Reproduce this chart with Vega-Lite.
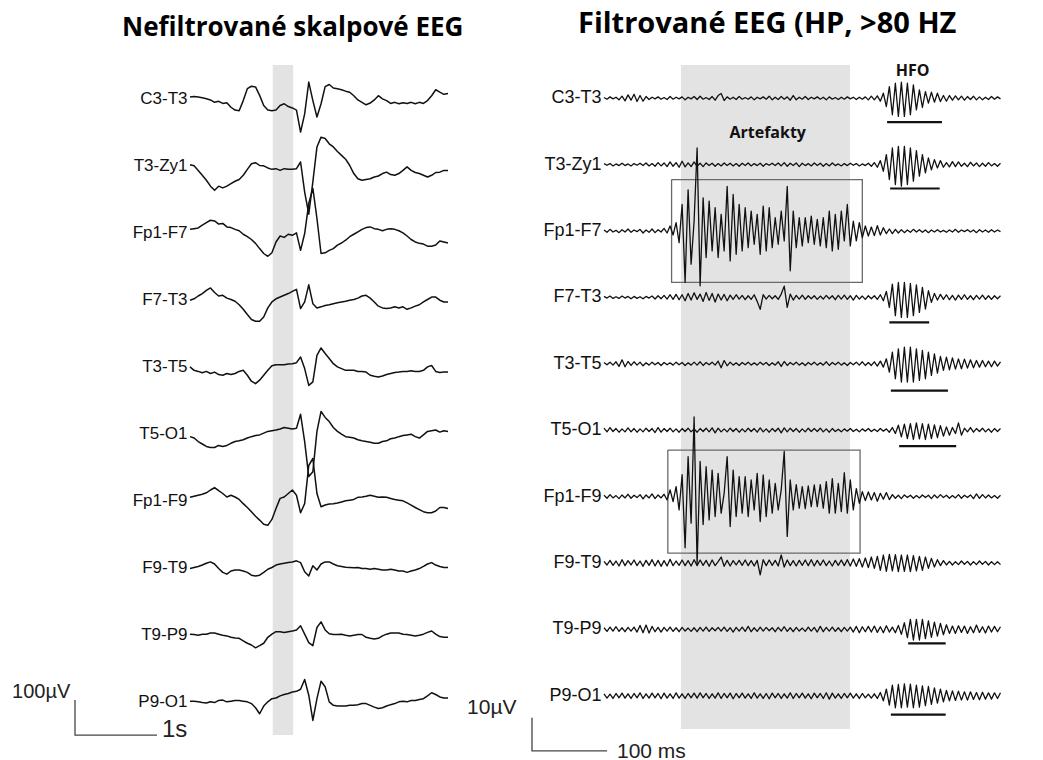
{
"$schema": "https://vega.github.io/schema/vega-lite/v6.json",
"background": "white",
"padding": {"left": 12, "top": 10, "right": 5, "bottom": 2},
"spacing": 156,
"bounds": "flush",
"resolve": {"scale": {"yOffset": "independent"}},
"config": {"view": {"stroke": null}, "axis": {"grid": false}},
"datasets": {
"L": [
{"t":0,"C3-T3":4,"T3-Zy1":2,"Fp1-F7":9,"F7-T3":-2,"T3-T5":-1,"T5-O1":-9,"Fp1-F9":9,"F9-T9":-3,"T9-P9":1,"P9-O1":1},
{"t":0.05,"C3-T3":6,"T3-Zy1":-1,"Fp1-F7":11,"F7-T3":2,"T3-T5":-11,"T5-O1":-13,"Fp1-F9":12,"F9-T9":0,"T9-P9":0,"P9-O1":1},
{"t":0.1,"C3-T3":4,"T3-Zy1":-14,"Fp1-F7":13,"F7-T3":10,"T3-T5":-14,"T5-O1":-23,"Fp1-F9":15,"F9-T9":3,"T9-P9":-2,"P9-O1":-1},
{"t":0.15,"C3-T3":2,"T3-Zy1":-28,"Fp1-F7":21,"F7-T3":17,"T3-T5":-18,"T5-O1":-30,"Fp1-F9":18,"F9-T9":7,"T9-P9":1,"P9-O1":-3},
{"t":0.2,"C3-T3":-1,"T3-Zy1":-42,"Fp1-F7":28,"F7-T3":26,"T3-T5":-14,"T5-O1":-37,"Fp1-F9":22,"F9-T9":12,"T9-P9":1,"P9-O1":-4},
{"t":0.25,"C3-T3":-4,"T3-Zy1":-59,"Fp1-F7":35,"F7-T3":33,"T3-T5":-20,"T5-O1":-40,"Fp1-F9":30,"F9-T9":16,"T9-P9":4,"P9-O1":-1},
{"t":0.3,"C3-T3":-11,"T3-Zy1":-71,"Fp1-F7":33,"F7-T3":20,"T3-T5":-16,"T5-O1":-40,"Fp1-F9":37,"F9-T9":10,"T9-P9":4,"P9-O1":-3},
{"t":0.35,"C3-T3":-8,"T3-Zy1":-59,"Fp1-F7":24,"F7-T3":10,"T3-T5":-23,"T5-O1":-34,"Fp1-F9":28,"F9-T9":-3,"T9-P9":1,"P9-O1":3},
{"t":0.4,"C3-T3":-14,"T3-Zy1":-64,"Fp1-F7":26,"F7-T3":12,"T3-T5":-25,"T5-O1":-37,"Fp1-F9":20,"F9-T9":-14,"T9-P9":-2,"P9-O1":4},
{"t":0.45,"C3-T3":-12,"T3-Zy1":-59,"Fp1-F7":16,"F7-T3":4,"T3-T5":-20,"T5-O1":-34,"Fp1-F9":10,"F9-T9":-19,"T9-P9":-4,"P9-O1":-1},
{"t":0.5,"C3-T3":-25,"T3-Zy1":-52,"Fp1-F7":14,"F7-T3":0,"T3-T5":-23,"T5-O1":-28,"Fp1-F9":15,"F9-T9":-10,"T9-P9":-8,"P9-O1":1},
{"t":0.55,"C3-T3":-33,"T3-Zy1":-45,"Fp1-F7":9,"F7-T3":-5,"T3-T5":-20,"T5-O1":-23,"Fp1-F9":10,"F9-T9":-7,"T9-P9":-10,"P9-O1":3},
{"t":0.6,"C3-T3":-35,"T3-Zy1":-40,"Fp1-F7":5,"F7-T3":-15,"T3-T5":-14,"T5-O1":-21,"Fp1-F9":3,"F9-T9":-7,"T9-P9":-11,"P9-O1":3},
{"t":0.65,"C3-T3":-6,"T3-Zy1":-28,"Fp1-F7":-5,"F7-T3":-28,"T3-T5":-11,"T5-O1":-18,"Fp1-F9":-9,"F9-T9":-10,"T9-P9":-18,"P9-O1":1},
{"t":0.7,"C3-T3":28,"T3-Zy1":-11,"Fp1-F7":-12,"F7-T3":-43,"T3-T5":-25,"T5-O1":-13,"Fp1-F9":-20,"F9-T9":-14,"T9-P9":-25,"P9-O1":-1},
{"t":0.75,"C3-T3":35,"T3-Zy1":5,"Fp1-F7":-20,"F7-T3":-57,"T3-T5":-42,"T5-O1":-9,"Fp1-F9":-32,"F9-T9":-22,"T9-P9":-30,"P9-O1":-6},
{"t":0.8,"C3-T3":33,"T3-Zy1":8,"Fp1-F7":-31,"F7-T3":-62,"T3-T5":-49,"T5-O1":-6,"Fp1-F9":-45,"F9-T9":-24,"T9-P9":-38,"P9-O1":-18},
{"t":0.85,"C3-T3":9,"T3-Zy1":0,"Fp1-F7":-46,"F7-T3":-62,"T3-T5":-39,"T5-O1":-4,"Fp1-F9":-56,"F9-T9":-22,"T9-P9":-32,"P9-O1":-35},
{"t":0.9,"C3-T3":-20,"T3-Zy1":-1,"Fp1-F7":-60,"F7-T3":-50,"T3-T5":-25,"T5-O1":1,"Fp1-F9":-68,"F9-T9":-14,"T9-P9":-25,"P9-O1":-13},
{"t":0.95,"C3-T3":-33,"T3-Zy1":-7,"Fp1-F7":-68,"F7-T3":-24,"T3-T5":-11,"T5-O1":6,"Fp1-F9":-71,"F9-T9":-5,"T9-P9":-8,"P9-O1":-1},
{"t":1,"C3-T3":-35,"T3-Zy1":-11,"Fp1-F7":-58,"F7-T3":-7,"T3-T5":2,"T5-O1":8,"Fp1-F9":-54,"F9-T9":0,"T9-P9":1,"P9-O1":8},
{"t":1.05,"C3-T3":-33,"T3-Zy1":-9,"Fp1-F7":-27,"F7-T3":2,"T3-T5":5,"T5-O1":10,"Fp1-F9":-23,"F9-T9":7,"T9-P9":8,"P9-O1":10},
{"t":1.1,"C3-T3":-20,"T3-Zy1":-14,"Fp1-F7":-10,"F7-T3":7,"T3-T5":5,"T5-O1":13,"Fp1-F9":6,"F9-T9":10,"T9-P9":8,"P9-O1":16},
{"t":1.15,"C3-T3":-15,"T3-Zy1":-9,"Fp1-F7":-14,"F7-T3":12,"T3-T5":5,"T5-O1":17,"Fp1-F9":10,"F9-T9":12,"T9-P9":6,"P9-O1":20},
{"t":1.2,"C3-T3":-23,"T3-Zy1":-11,"Fp1-F7":-5,"F7-T3":17,"T3-T5":7,"T5-O1":15,"Fp1-F9":20,"F9-T9":14,"T9-P9":8,"P9-O1":23},
{"t":1.25,"C3-T3":-27,"T3-Zy1":-11,"Fp1-F7":-8,"F7-T3":23,"T3-T5":8,"T5-O1":13,"Fp1-F9":30,"F9-T9":16,"T9-P9":10,"P9-O1":27},
{"t":1.3,"C3-T3":-33,"T3-Zy1":-9,"Fp1-F7":-1,"F7-T3":29,"T3-T5":11,"T5-O1":15,"Fp1-F9":15,"F9-T9":19,"T9-P9":13,"P9-O1":29},
{"t":1.35,"C3-T3":-96,"T3-Zy1":10,"Fp1-F7":-51,"F7-T3":-26,"T3-T5":27,"T5-O1":55,"Fp1-F9":-35,"F9-T9":14,"T9-P9":25,"P9-O1":35},
{"t":1.4,"C3-T3":-44,"T3-Zy1":-76,"Fp1-F7":-3,"F7-T3":-7,"T3-T5":-6,"T5-O1":-23,"Fp1-F9":-9,"F9-T9":-12,"T9-P9":1,"P9-O1":63},
{"t":1.45,"C3-T3":47,"T3-Zy1":-139,"Fp1-F7":83,"F7-T3":42,"T3-T5":-54,"T5-O1":-123,"Fp1-F9":100,"F9-T9":-24,"T9-P9":-23,"P9-O1":18},
{"t":1.5,"C3-T3":-6,"T3-Zy1":-47,"Fp1-F7":126,"F7-T3":-12,"T3-T5":-44,"T5-O1":-109,"Fp1-F9":120,"F9-T9":5,"T9-P9":-32,"P9-O1":-54},
{"t":1.55,"C3-T3":-53,"T3-Zy1":53,"Fp1-F7":40,"F7-T3":-24,"T3-T5":32,"T5-O1":6,"Fp1-F9":20,"F9-T9":-7,"T9-P9":20,"P9-O1":8},
{"t":1.6,"C3-T3":-15,"T3-Zy1":81,"Fp1-F7":-60,"F7-T3":-21,"T3-T5":53,"T5-O1":63,"Fp1-F9":-18,"F9-T9":10,"T9-P9":36,"P9-O1":58},
{"t":1.65,"C3-T3":34,"T3-Zy1":77,"Fp1-F7":-58,"F7-T3":-17,"T3-T5":37,"T5-O1":46,"Fp1-F9":-13,"F9-T9":16,"T9-P9":13,"P9-O1":42},
{"t":1.7,"C3-T3":40,"T3-Zy1":62,"Fp1-F7":-51,"F7-T3":-15,"T3-T5":23,"T5-O1":34,"Fp1-F9":-10,"F9-T9":16,"T9-P9":2,"P9-O1":-1},
{"t":1.75,"C3-T3":30,"T3-Zy1":53,"Fp1-F7":-46,"F7-T3":-12,"T3-T5":8,"T5-O1":17,"Fp1-F9":-9,"F9-T9":10,"T9-P9":0,"P9-O1":-11},
{"t":1.8,"C3-T3":28,"T3-Zy1":40,"Fp1-F7":-36,"F7-T3":-9,"T3-T5":-1,"T5-O1":6,"Fp1-F9":-7,"F9-T9":5,"T9-P9":0,"P9-O1":-13},
{"t":1.85,"C3-T3":25,"T3-Zy1":29,"Fp1-F7":-30,"F7-T3":-7,"T3-T5":-6,"T5-O1":-2,"Fp1-F9":-4,"F9-T9":3,"T9-P9":1,"P9-O1":-13},
{"t":1.9,"C3-T3":21,"T3-Zy1":18,"Fp1-F7":-22,"F7-T3":-5,"T3-T5":-11,"T5-O1":-9,"Fp1-F9":-1,"F9-T9":1,"T9-P9":-2,"P9-O1":-13},
{"t":1.95,"C3-T3":18,"T3-Zy1":0,"Fp1-F7":-12,"F7-T3":-2,"T3-T5":-11,"T5-O1":-11,"Fp1-F9":1,"F9-T9":0,"T9-P9":-4,"P9-O1":-11},
{"t":2,"C3-T3":8,"T3-Zy1":-23,"Fp1-F7":-5,"F7-T3":0,"T3-T5":-11,"T5-O1":-13,"Fp1-F9":3,"F9-T9":-1,"T9-P9":-2,"P9-O1":-11},
{"t":2.05,"C3-T3":-4,"T3-Zy1":-38,"Fp1-F7":2,"F7-T3":4,"T3-T5":-14,"T5-O1":-18,"Fp1-F9":9,"F9-T9":0,"T9-P9":0,"P9-O1":-9},
{"t":2.1,"C3-T3":-11,"T3-Zy1":-42,"Fp1-F7":9,"F7-T3":10,"T3-T5":-14,"T5-O1":-21,"Fp1-F9":10,"F9-T9":-3,"T9-P9":0,"P9-O1":-6},
{"t":2.15,"C3-T3":-18,"T3-Zy1":-40,"Fp1-F7":14,"F7-T3":12,"T3-T5":-16,"T5-O1":-23,"Fp1-F9":12,"F9-T9":-3,"T9-P9":-8,"P9-O1":-6},
{"t":2.2,"C3-T3":-13,"T3-Zy1":-38,"Fp1-F7":16,"F7-T3":4,"T3-T5":-25,"T5-O1":-25,"Fp1-F9":15,"F9-T9":-5,"T9-P9":-11,"P9-O1":-11},
{"t":2.25,"C3-T3":-4,"T3-Zy1":-33,"Fp1-F7":11,"F7-T3":-7,"T3-T5":-28,"T5-O1":-28,"Fp1-F9":12,"F9-T9":-3,"T9-P9":-13,"P9-O1":-16},
{"t":2.3,"C3-T3":8,"T3-Zy1":-30,"Fp1-F7":9,"F7-T3":-19,"T3-T5":-30,"T5-O1":-28,"Fp1-F9":9,"F9-T9":-5,"T9-P9":-11,"P9-O1":-20},
{"t":2.35,"C3-T3":-1,"T3-Zy1":-23,"Fp1-F7":5,"F7-T3":-24,"T3-T5":-27,"T5-O1":-23,"Fp1-F9":10,"F9-T9":-7,"T9-P9":-4,"P9-O1":-18},
{"t":2.4,"C3-T3":-6,"T3-Zy1":-19,"Fp1-F7":9,"F7-T3":-26,"T3-T5":-23,"T5-O1":-21,"Fp1-F9":9,"F9-T9":-7,"T9-P9":1,"P9-O1":-13},
{"t":2.45,"C3-T3":-14,"T3-Zy1":-26,"Fp1-F7":11,"F7-T3":-24,"T3-T5":-20,"T5-O1":-15,"Fp1-F9":6,"F9-T9":-5,"T9-P9":4,"P9-O1":-9},
{"t":2.5,"C3-T3":-11,"T3-Zy1":-28,"Fp1-F7":9,"F7-T3":-21,"T3-T5":-17,"T5-O1":-13,"Fp1-F9":3,"F9-T9":-7,"T9-P9":4,"P9-O1":-6},
{"t":2.55,"C3-T3":-15,"T3-Zy1":-23,"Fp1-F7":5,"F7-T3":-24,"T3-T5":-16,"T5-O1":-9,"Fp1-F9":1,"F9-T9":-10,"T9-P9":4,"P9-O1":-1},
{"t":2.6,"C3-T3":-12,"T3-Zy1":-14,"Fp1-F7":-1,"F7-T3":-21,"T3-T5":-14,"T5-O1":-6,"Fp1-F9":-1,"F9-T9":-10,"T9-P9":1,"P9-O1":1},
{"t":2.65,"C3-T3":-14,"T3-Zy1":-4,"Fp1-F7":-10,"F7-T3":-28,"T3-T5":-14,"T5-O1":-4,"Fp1-F9":-7,"F9-T9":-14,"T9-P9":0,"P9-O1":-1},
{"t":2.7,"C3-T3":-11,"T3-Zy1":-14,"Fp1-F7":-20,"F7-T3":-24,"T3-T5":-12,"T5-O1":-2,"Fp1-F9":-13,"F9-T9":-10,"T9-P9":-2,"P9-O1":3},
{"t":2.75,"C3-T3":-15,"T3-Zy1":-20,"Fp1-F7":-27,"F7-T3":-19,"T3-T5":-14,"T5-O1":-9,"Fp1-F9":-20,"F9-T9":-7,"T9-P9":-4,"P9-O1":3},
{"t":2.8,"C3-T3":-11,"T3-Zy1":-23,"Fp1-F7":-31,"F7-T3":-15,"T3-T5":-14,"T5-O1":-13,"Fp1-F9":-26,"F9-T9":-3,"T9-P9":-2,"P9-O1":6},
{"t":2.85,"C3-T3":-14,"T3-Zy1":-28,"Fp1-F7":-33,"F7-T3":-7,"T3-T5":-11,"T5-O1":-4,"Fp1-F9":-32,"F9-T9":3,"T9-P9":1,"P9-O1":8},
{"t":2.9,"C3-T3":-6,"T3-Zy1":-33,"Fp1-F7":-39,"F7-T3":0,"T3-T5":-1,"T5-O1":6,"Fp1-F9":-35,"F9-T9":10,"T9-P9":6,"P9-O1":16},
{"t":2.95,"C3-T3":8,"T3-Zy1":-28,"Fp1-F7":-39,"F7-T3":7,"T3-T5":3,"T5-O1":8,"Fp1-F9":-35,"F9-T9":14,"T9-P9":10,"P9-O1":25},
{"t":3,"C3-T3":25,"T3-Zy1":-20,"Fp1-F7":-36,"F7-T3":7,"T3-T5":-14,"T5-O1":10,"Fp1-F9":-30,"F9-T9":7,"T9-P9":1,"P9-O1":20},
{"t":3.05,"C3-T3":18,"T3-Zy1":-19,"Fp1-F7":-24,"F7-T3":-2,"T3-T5":-17,"T5-O1":4,"Fp1-F9":-20,"F9-T9":3,"T9-P9":-6,"P9-O1":13},
{"t":3.1,"C3-T3":12,"T3-Zy1":-14,"Fp1-F7":-27,"F7-T3":-7,"T3-T5":-16,"T5-O1":8,"Fp1-F9":-20,"F9-T9":0,"T9-P9":-8,"P9-O1":10},
{"t":3.15,"C3-T3":14,"T3-Zy1":-14,"Fp1-F7":-30,"F7-T3":-7,"T3-T5":-16,"T5-O1":6,"Fp1-F9":-23,"F9-T9":0,"T9-P9":-8,"P9-O1":10}
],
"R": [
{"t":0,"C3-T3":0.2,"T3-Zy1":0.3,"Fp1-F7":0.3,"F7-T3":0.3,"T3-T5":0.4,"T5-O1":0.6,"Fp1-F9":0.4,"F9-T9":0.5,"T9-P9":0.5,"P9-O1":0.6},
{"t":4,"C3-T3":-0.3,"T3-Zy1":-0.2,"Fp1-F7":-0.4,"F7-T3":-0.2,"T3-T5":-0.3,"T5-O1":-0.5,"Fp1-F9":-0.5,"F9-T9":-0.6,"T9-P9":-0.6,"P9-O1":-0.7},
{"t":8,"C3-T3":0.4,"T3-Zy1":0.3,"Fp1-F7":0.5,"F7-T3":0.4,"T3-T5":0.5,"T5-O1":0.8,"Fp1-F9":0.6,"F9-T9":0.8,"T9-P9":0.7,"P9-O1":0.5},
{"t":12,"C3-T3":-0.2,"T3-Zy1":-0.4,"Fp1-F7":-0.3,"F7-T3":-0.3,"T3-T5":-0.4,"T5-O1":-0.4,"Fp1-F9":-0.4,"F9-T9":-0.7,"T9-P9":-0.5,"P9-O1":-0.8},
{"t":16,"C3-T3":0.3,"T3-Zy1":0.2,"Fp1-F7":0.2,"F7-T3":0.2,"T3-T5":0.6,"T5-O1":0.5,"Fp1-F9":0.3,"F9-T9":0.6,"T9-P9":0.8,"P9-O1":0.7},
{"t":20,"C3-T3":-0.5,"T3-Zy1":-0.3,"Fp1-F7":-0.5,"F7-T3":-0.3,"T3-T5":-0.8,"T5-O1":-0.6,"Fp1-F9":-0.6,"F9-T9":-0.9,"T9-P9":-0.6,"P9-O1":-0.6},
{"t":24,"C3-T3":0.6,"T3-Zy1":0.4,"Fp1-F7":0.4,"F7-T3":0.4,"T3-T5":1.2,"T5-O1":0.4,"Fp1-F9":0.5,"F9-T9":1.0,"T9-P9":0.5,"P9-O1":0.8},
{"t":28,"C3-T3":-0.8,"T3-Zy1":-0.3,"Fp1-F7":-0.3,"F7-T3":-0.2,"T3-T5":-0.9,"T5-O1":-0.5,"Fp1-F9":-0.4,"F9-T9":-0.8,"T9-P9":-0.7,"P9-O1":-0.7},
{"t":32,"C3-T3":1.0,"T3-Zy1":0.2,"Fp1-F7":0.6,"F7-T3":0.3,"T3-T5":0.7,"T5-O1":0.7,"Fp1-F9":0.7,"F9-T9":0.7,"T9-P9":0.6,"P9-O1":0.6},
{"t":36,"C3-T3":-0.6,"T3-Zy1":-0.4,"Fp1-F7":-0.4,"F7-T3":-0.4,"T3-T5":-0.5,"T5-O1":-0.5,"Fp1-F9":-0.5,"F9-T9":-0.6,"T9-P9":-0.5,"P9-O1":-0.8},
{"t":40,"C3-T3":1.2,"T3-Zy1":0.3,"Fp1-F7":0.3,"F7-T3":0.3,"T3-T5":0.6,"T5-O1":0.5,"Fp1-F9":0.4,"F9-T9":0.9,"T9-P9":0.7,"P9-O1":0.7},
{"t":44,"C3-T3":-1.0,"T3-Zy1":-0.2,"Fp1-F7":-0.2,"F7-T3":-0.3,"T3-T5":-0.4,"T5-O1":-0.6,"Fp1-F9":-0.3,"F9-T9":-0.8,"T9-P9":-0.8,"P9-O1":-0.6},
{"t":48,"C3-T3":0.8,"T3-Zy1":0.4,"Fp1-F7":0.5,"F7-T3":0.2,"T3-T5":0.5,"T5-O1":0.4,"Fp1-F9":0.6,"F9-T9":0.6,"T9-P9":1.2,"P9-O1":0.9},
{"t":52,"C3-T3":-0.9,"T3-Zy1":-0.3,"Fp1-F7":-0.6,"F7-T3":-0.4,"T3-T5":-0.6,"T5-O1":-0.5,"Fp1-F9":-0.7,"F9-T9":-1.0,"T9-P9":-1.0,"P9-O1":-0.8},
{"t":56,"C3-T3":0.5,"T3-Zy1":0.5,"Fp1-F7":0.3,"F7-T3":0.3,"T3-T5":0.3,"T5-O1":0.6,"Fp1-F9":0.5,"F9-T9":0.8,"T9-P9":1.3,"P9-O1":0.6},
{"t":60,"C3-T3":-0.4,"T3-Zy1":-0.4,"Fp1-F7":-0.4,"F7-T3":-0.2,"T3-T5":-0.4,"T5-O1":-0.4,"Fp1-F9":-0.4,"F9-T9":-0.7,"T9-P9":-1.1,"P9-O1":-0.7},
{"t":64,"C3-T3":0.3,"T3-Zy1":0.3,"Fp1-F7":0.6,"F7-T3":0.4,"T3-T5":0.5,"T5-O1":0.5,"Fp1-F9":0.8,"F9-T9":1.0,"T9-P9":0.9,"P9-O1":0.8},
{"t":68,"C3-T3":-0.2,"T3-Zy1":-0.5,"Fp1-F7":-0.5,"F7-T3":-0.5,"T3-T5":-0.3,"T5-O1":-0.7,"Fp1-F9":-0.6,"F9-T9":-0.9,"T9-P9":-0.7,"P9-O1":-0.6},
{"t":72,"C3-T3":0.4,"T3-Zy1":0.6,"Fp1-F7":0.4,"F7-T3":0.5,"T3-T5":0.4,"T5-O1":0.8,"Fp1-F9":0.5,"F9-T9":0.8,"T9-P9":0.6,"P9-O1":0.7},
{"t":76,"C3-T3":-0.3,"T3-Zy1":-0.4,"Fp1-F7":-0.3,"F7-T3":-0.4,"T3-T5":-0.5,"T5-O1":-0.6,"Fp1-F9":-0.4,"F9-T9":-1.0,"T9-P9":-0.8,"P9-O1":-0.9},
{"t":80,"C3-T3":0.2,"T3-Zy1":0.5,"Fp1-F7":0.8,"F7-T3":0.6,"T3-T5":0.4,"T5-O1":0.5,"Fp1-F9":0.7,"F9-T9":0.7,"T9-P9":0.6,"P9-O1":0.8},
{"t":84,"C3-T3":-0.4,"T3-Zy1":-0.6,"Fp1-F7":-0.6,"F7-T3":-0.5,"T3-T5":-0.3,"T5-O1":-0.4,"Fp1-F9":-1.0,"F9-T9":-0.9,"T9-P9":-0.5,"P9-O1":-0.7},
{"t":88,"C3-T3":0.5,"T3-Zy1":0.8,"Fp1-F7":1.5,"F7-T3":0.8,"T3-T5":0.3,"T5-O1":0.6,"Fp1-F9":2.0,"F9-T9":1.1,"T9-P9":0.7,"P9-O1":0.6},
{"t":92,"C3-T3":-0.3,"T3-Zy1":-0.5,"Fp1-F7":-1.2,"F7-T3":-0.6,"T3-T5":-0.4,"T5-O1":-0.5,"Fp1-F9":-1.5,"F9-T9":-0.8,"T9-P9":-0.6,"P9-O1":-0.8},
{"t":96,"C3-T3":0.3,"T3-Zy1":0.6,"Fp1-F7":2.5,"F7-T3":0.9,"T3-T5":0.5,"T5-O1":0.4,"Fp1-F9":3.0,"F9-T9":0.6,"T9-P9":0.5,"P9-O1":0.9},
{"t":100,"C3-T3":-0.2,"T3-Zy1":-0.8,"Fp1-F7":-3.5,"F7-T3":-0.7,"T3-T5":-0.3,"T5-O1":-0.6,"Fp1-F9":-4.0,"F9-T9":-0.7,"T9-P9":-0.7,"P9-O1":-0.7},
{"t":104,"C3-T3":0.4,"T3-Zy1":1.0,"Fp1-F7":8,"F7-T3":0.8,"T3-T5":0.4,"T5-O1":0.5,"Fp1-F9":6.6,"F9-T9":0.9,"T9-P9":0.6,"P9-O1":0.6},
{"t":108,"C3-T3":-0.5,"T3-Zy1":-0.7,"Fp1-F7":-15.5,"F7-T3":-1.0,"T3-T5":-0.5,"T5-O1":-0.4,"Fp1-F9":-15.4,"F9-T9":-0.8,"T9-P9":-0.5,"P9-O1":-0.8},
{"t":112,"C3-T3":0.3,"T3-Zy1":0.5,"Fp1-F7":12.4,"F7-T3":1.2,"T3-T5":0.3,"T5-O1":0.6,"Fp1-F9":12.0,"F9-T9":0.7,"T9-P9":0.4,"P9-O1":0.7},
{"t":116,"C3-T3":-0.2,"T3-Zy1":-0.6,"Fp1-F7":-10,"F7-T3":-0.8,"T3-T5":-0.4,"T5-O1":-0.5,"Fp1-F9":-8.0,"F9-T9":-0.9,"T9-P9":-0.6,"P9-O1":-0.6},
{"t":120,"C3-T3":0.5,"T3-Zy1":0.8,"Fp1-F7":3,"F7-T3":1.4,"T3-T5":0.5,"T5-O1":0.4,"Fp1-F9":24,"F9-T9":1.0,"T9-P9":0.5,"P9-O1":0.8},
{"t":124,"C3-T3":-0.4,"T3-Zy1":-0.5,"Fp1-F7":25,"F7-T3":-0.6,"T3-T5":-0.4,"T5-O1":-0.6,"Fp1-F9":-20.4,"F9-T9":-0.8,"T9-P9":-0.7,"P9-O1":-0.7},
{"t":128,"C3-T3":0.6,"T3-Zy1":0.4,"Fp1-F7":-16.5,"F7-T3":1.0,"T3-T5":0.6,"T5-O1":0.5,"Fp1-F9":10.6,"F9-T9":0.9,"T9-P9":0.6,"P9-O1":0.9},
{"t":132,"C3-T3":-0.3,"T3-Zy1":-0.6,"Fp1-F7":10,"F7-T3":-1.2,"T3-T5":-0.5,"T5-O1":-0.4,"Fp1-F9":-8.4,"F9-T9":-0.7,"T9-P9":-0.5,"P9-O1":-0.6},
{"t":136,"C3-T3":0.2,"T3-Zy1":0.5,"Fp1-F7":-8,"F7-T3":1.5,"T3-T5":0.4,"T5-O1":0.6,"Fp1-F9":9,"F9-T9":0.8,"T9-P9":0.7,"P9-O1":0.7},
{"t":140,"C3-T3":-0.4,"T3-Zy1":-0.3,"Fp1-F7":9,"F7-T3":-0.9,"T3-T5":-0.3,"T5-O1":-0.5,"Fp1-F9":-7,"F9-T9":-1.0,"T9-P9":-0.6,"P9-O1":-0.8},
{"t":144,"C3-T3":0.5,"T3-Zy1":0.4,"Fp1-F7":-6,"F7-T3":1.2,"T3-T5":0.5,"T5-O1":0.7,"Fp1-F9":8,"F9-T9":0.9,"T9-P9":0.5,"P9-O1":0.6},
{"t":148,"C3-T3":-0.6,"T3-Zy1":-0.5,"Fp1-F7":7,"F7-T3":-1.4,"T3-T5":-0.4,"T5-O1":-0.8,"Fp1-F9":-6,"F9-T9":-0.8,"T9-P9":-0.4,"P9-O1":-0.7},
{"t":152,"C3-T3":0.8,"T3-Zy1":0.3,"Fp1-F7":-8,"F7-T3":1.0,"T3-T5":0.8,"T5-O1":0.6,"Fp1-F9":7,"F9-T9":0.4,"T9-P9":0.6,"P9-O1":0.9},
{"t":156,"C3-T3":1.4,"T3-Zy1":-0.4,"Fp1-F7":5,"F7-T3":-0.8,"T3-T5":-1.2,"T5-O1":-0.5,"Fp1-F9":-5,"F9-T9":1.8,"T9-P9":-0.5,"P9-O1":-0.8},
{"t":160,"C3-T3":-0.7,"T3-Zy1":0.5,"Fp1-F7":-6,"F7-T3":0.9,"T3-T5":1.0,"T5-O1":0.4,"Fp1-F9":1,"F9-T9":-1.0,"T9-P9":0.7,"P9-O1":0.7},
{"t":164,"C3-T3":0.4,"T3-Zy1":-0.3,"Fp1-F7":13.4,"F7-T3":-1.0,"T3-T5":-0.6,"T5-O1":-0.5,"Fp1-F9":12,"F9-T9":0.8,"T9-P9":-0.6,"P9-O1":-0.6},
{"t":168,"C3-T3":-0.3,"T3-Zy1":0.4,"Fp1-F7":-9,"F7-T3":0.7,"T3-T5":0.5,"T5-O1":0.6,"Fp1-F9":-9,"F9-T9":-0.9,"T9-P9":0.5,"P9-O1":0.8},
{"t":172,"C3-T3":0.3,"T3-Zy1":-0.4,"Fp1-F7":11,"F7-T3":-0.6,"T3-T5":-0.4,"T5-O1":-0.4,"Fp1-F9":8,"F9-T9":0.7,"T9-P9":-0.8,"P9-O1":-0.9},
{"t":176,"C3-T3":-0.4,"T3-Zy1":0.3,"Fp1-F7":-7,"F7-T3":0.8,"T3-T5":0.3,"T5-O1":0.5,"Fp1-F9":-6,"F9-T9":-0.6,"T9-P9":0.6,"P9-O1":0.7},
{"t":180,"C3-T3":0.5,"T3-Zy1":-0.5,"Fp1-F7":8,"F7-T3":-0.5,"T3-T5":-0.5,"T5-O1":-0.6,"Fp1-F9":6,"F9-T9":0.8,"T9-P9":-0.5,"P9-O1":-0.6},
{"t":184,"C3-T3":-0.3,"T3-Zy1":0.4,"Fp1-F7":-6,"F7-T3":0.6,"T3-T5":0.4,"T5-O1":0.4,"Fp1-F9":-5,"F9-T9":-0.7,"T9-P9":0.7,"P9-O1":0.8},
{"t":188,"C3-T3":0.2,"T3-Zy1":-0.3,"Fp1-F7":7,"F7-T3":-0.7,"T3-T5":-0.3,"T5-O1":-0.5,"Fp1-F9":6,"F9-T9":0.9,"T9-P9":-0.6,"P9-O1":-0.7},
{"t":192,"C3-T3":-0.3,"T3-Zy1":0.5,"Fp1-F7":-5,"F7-T3":0.5,"T3-T5":0.5,"T5-O1":0.6,"Fp1-F9":-6,"F9-T9":-0.8,"T9-P9":0.9,"P9-O1":0.6},
{"t":196,"C3-T3":0.4,"T3-Zy1":-0.4,"Fp1-F7":6,"F7-T3":-0.6,"T3-T5":-0.4,"T5-O1":-0.4,"Fp1-F9":5,"F9-T9":0.7,"T9-P9":-0.7,"P9-O1":-0.8},
{"t":200,"C3-T3":-0.5,"T3-Zy1":0.3,"Fp1-F7":-4,"F7-T3":0.8,"T3-T5":0.3,"T5-O1":0.5,"Fp1-F9":-4,"F9-T9":-0.9,"T9-P9":0.5,"P9-O1":0.9},
{"t":204,"C3-T3":0.3,"T3-Zy1":-0.3,"Fp1-F7":5,"F7-T3":-1.2,"T3-T5":-0.4,"T5-O1":-0.6,"Fp1-F9":7,"F9-T9":0.8,"T9-P9":-0.6,"P9-O1":-0.7},
{"t":208,"C3-T3":-0.2,"T3-Zy1":0.4,"Fp1-F7":-7,"F7-T3":-3.6,"T3-T5":0.5,"T5-O1":0.7,"Fp1-F9":-7.5,"F9-T9":-3.6,"T9-P9":0.7,"P9-O1":0.6},
{"t":212,"C3-T3":0.4,"T3-Zy1":-0.5,"Fp1-F7":7.5,"F7-T3":0.8,"T3-T5":-0.3,"T5-O1":-0.5,"Fp1-F9":6.5,"F9-T9":1.0,"T9-P9":-0.5,"P9-O1":-0.8},
{"t":216,"C3-T3":-0.3,"T3-Zy1":0.3,"Fp1-F7":-6,"F7-T3":-0.5,"T3-T5":0.4,"T5-O1":0.4,"Fp1-F9":-6,"F9-T9":-0.8,"T9-P9":0.6,"P9-O1":0.7},
{"t":220,"C3-T3":0.6,"T3-Zy1":-0.2,"Fp1-F7":7,"F7-T3":0.6,"T3-T5":-0.5,"T5-O1":-0.6,"Fp1-F9":5,"F9-T9":0.9,"T9-P9":-0.4,"P9-O1":-0.9},
{"t":224,"C3-T3":-0.5,"T3-Zy1":0.4,"Fp1-F7":-5,"F7-T3":-0.4,"T3-T5":0.3,"T5-O1":0.5,"Fp1-F9":-5,"F9-T9":-0.7,"T9-P9":0.5,"P9-O1":0.8},
{"t":228,"C3-T3":0.3,"T3-Zy1":-0.3,"Fp1-F7":4,"F7-T3":0.5,"T3-T5":-0.4,"T5-O1":-0.4,"Fp1-F9":4,"F9-T9":0.8,"T9-P9":-0.7,"P9-O1":-0.6},
{"t":232,"C3-T3":-0.4,"T3-Zy1":0.5,"Fp1-F7":-4,"F7-T3":-0.6,"T3-T5":0.6,"T5-O1":0.6,"Fp1-F9":-4,"F9-T9":-0.9,"T9-P9":0.6,"P9-O1":0.7},
{"t":236,"C3-T3":0.5,"T3-Zy1":-0.4,"Fp1-F7":6,"F7-T3":1.0,"T3-T5":-0.8,"T5-O1":-0.8,"Fp1-F9":2,"F9-T9":2.4,"T9-P9":-0.5,"P9-O1":-0.8},
{"t":240,"C3-T3":-0.3,"T3-Zy1":0.6,"Fp1-F7":-3,"F7-T3":3.4,"T3-T5":0.7,"T5-O1":0.7,"Fp1-F9":13.6,"F9-T9":-1.2,"T9-P9":0.8,"P9-O1":0.6},
{"t":244,"C3-T3":0.4,"T3-Zy1":-0.5,"Fp1-F7":13.4,"F7-T3":-3.0,"T3-T5":-0.5,"T5-O1":-0.5,"Fp1-F9":-12,"F9-T9":0.9,"T9-P9":-0.6,"P9-O1":-0.7},
{"t":248,"C3-T3":-0.6,"T3-Zy1":0.4,"Fp1-F7":-12,"F7-T3":1.0,"T3-T5":0.4,"T5-O1":0.6,"Fp1-F9":5,"F9-T9":-0.8,"T9-P9":0.5,"P9-O1":0.9},
{"t":252,"C3-T3":0.8,"T3-Zy1":-0.3,"Fp1-F7":6,"F7-T3":-0.8,"T3-T5":-0.3,"T5-O1":-0.4,"Fp1-F9":-4,"F9-T9":0.7,"T9-P9":-0.7,"P9-O1":-0.8},
{"t":256,"C3-T3":-0.5,"T3-Zy1":0.5,"Fp1-F7":-5,"F7-T3":0.6,"T3-T5":0.5,"T5-O1":0.5,"Fp1-F9":3.6,"F9-T9":-0.9,"T9-P9":0.6,"P9-O1":0.7},
{"t":260,"C3-T3":0.3,"T3-Zy1":-0.6,"Fp1-F7":4,"F7-T3":-0.5,"T3-T5":-0.4,"T5-O1":-0.6,"Fp1-F9":-3.5,"F9-T9":0.8,"T9-P9":-0.5,"P9-O1":-0.6},
{"t":264,"C3-T3":-0.3,"T3-Zy1":0.4,"Fp1-F7":-4.5,"F7-T3":0.7,"T3-T5":0.3,"T5-O1":0.4,"Fp1-F9":3,"F9-T9":-0.7,"T9-P9":0.4,"P9-O1":0.8},
{"t":268,"C3-T3":0.5,"T3-Zy1":-0.3,"Fp1-F7":4,"F7-T3":-0.6,"T3-T5":-0.5,"T5-O1":-0.5,"Fp1-F9":-3.6,"F9-T9":0.9,"T9-P9":-0.6,"P9-O1":-0.7},
{"t":272,"C3-T3":-0.4,"T3-Zy1":0.3,"Fp1-F7":-3.5,"F7-T3":0.5,"T3-T5":0.4,"T5-O1":0.6,"Fp1-F9":3.2,"F9-T9":-0.8,"T9-P9":0.7,"P9-O1":0.6},
{"t":276,"C3-T3":0.3,"T3-Zy1":-0.4,"Fp1-F7":4.5,"F7-T3":-0.4,"T3-T5":-0.3,"T5-O1":-0.4,"Fp1-F9":-3,"F9-T9":1.0,"T9-P9":-0.5,"P9-O1":-0.9},
{"t":280,"C3-T3":-0.2,"T3-Zy1":0.5,"Fp1-F7":-4,"F7-T3":0.5,"T3-T5":0.5,"T5-O1":0.5,"Fp1-F9":3.5,"F9-T9":-0.9,"T9-P9":0.6,"P9-O1":0.8},
{"t":284,"C3-T3":0.4,"T3-Zy1":-0.3,"Fp1-F7":3.5,"F7-T3":-0.6,"T3-T5":-0.4,"T5-O1":-0.4,"Fp1-F9":-3,"F9-T9":0.8,"T9-P9":-0.8,"P9-O1":-0.6},
{"t":288,"C3-T3":-0.3,"T3-Zy1":0.4,"Fp1-F7":-4.5,"F7-T3":0.4,"T3-T5":0.3,"T5-O1":0.6,"Fp1-F9":3.6,"F9-T9":-0.7,"T9-P9":0.9,"P9-O1":0.7},
{"t":292,"C3-T3":0.3,"T3-Zy1":-0.5,"Fp1-F7":4,"F7-T3":-0.5,"T3-T5":-0.4,"T5-O1":-0.5,"Fp1-F9":-3.5,"F9-T9":0.9,"T9-P9":-0.7,"P9-O1":-0.8},
{"t":296,"C3-T3":-0.5,"T3-Zy1":0.3,"Fp1-F7":-5,"F7-T3":0.6,"T3-T5":0.6,"T5-O1":0.4,"Fp1-F9":4.5,"F9-T9":-0.8,"T9-P9":0.6,"P9-O1":0.9},
{"t":300,"C3-T3":0.4,"T3-Zy1":-0.4,"Fp1-F7":6,"F7-T3":-0.4,"T3-T5":-0.5,"T5-O1":-0.6,"Fp1-F9":-5,"F9-T9":0.6,"T9-P9":-0.5,"P9-O1":-1.0},
{"t":304,"C3-T3":-0.3,"T3-Zy1":0.5,"Fp1-F7":-6,"F7-T3":0.5,"T3-T5":0.4,"T5-O1":0.5,"Fp1-F9":5.4,"F9-T9":-0.9,"T9-P9":0.7,"P9-O1":0.8},
{"t":308,"C3-T3":0.2,"T3-Zy1":-0.3,"Fp1-F7":5,"F7-T3":-0.7,"T3-T5":-0.3,"T5-O1":-0.4,"Fp1-F9":-5,"F9-T9":0.8,"T9-P9":-0.6,"P9-O1":-0.7},
{"t":312,"C3-T3":-0.4,"T3-Zy1":0.2,"Fp1-F7":-5.5,"F7-T3":0.6,"T3-T5":0.5,"T5-O1":0.3,"Fp1-F9":4,"F9-T9":-0.7,"T9-P9":0.5,"P9-O1":0.6},
{"t":316,"C3-T3":0.3,"T3-Zy1":-0.4,"Fp1-F7":6,"F7-T3":-0.5,"T3-T5":-0.4,"T5-O1":-0.5,"Fp1-F9":-4.5,"F9-T9":0.9,"T9-P9":-0.7,"P9-O1":-0.8},
{"t":320,"C3-T3":-0.3,"T3-Zy1":0.3,"Fp1-F7":-3,"F7-T3":0.7,"T3-T5":0.3,"T5-O1":0.4,"Fp1-F9":7.2,"F9-T9":-0.8,"T9-P9":0.6,"P9-O1":0.7},
{"t":324,"C3-T3":0.4,"T3-Zy1":-0.3,"Fp1-F7":8,"F7-T3":-0.6,"T3-T5":-0.5,"T5-O1":-0.3,"Fp1-F9":-5,"F9-T9":1.0,"T9-P9":-0.5,"P9-O1":-0.6},
{"t":328,"C3-T3":-0.2,"T3-Zy1":0.4,"Fp1-F7":-4.5,"F7-T3":0.5,"T3-T5":0.4,"T5-O1":0.5,"Fp1-F9":5,"F9-T9":-0.9,"T9-P9":0.7,"P9-O1":0.8},
{"t":332,"C3-T3":0.3,"T3-Zy1":-0.2,"Fp1-F7":3,"F7-T3":-0.8,"T3-T5":-0.3,"T5-O1":-0.4,"Fp1-F9":-4,"F9-T9":1.2,"T9-P9":-0.8,"P9-O1":-0.7},
{"t":336,"C3-T3":-0.4,"T3-Zy1":0.3,"Fp1-F7":-3,"F7-T3":0.6,"T3-T5":0.5,"T5-O1":0.3,"Fp1-F9":2.4,"F9-T9":-1.0,"T9-P9":0.9,"P9-O1":0.6},
{"t":340,"C3-T3":0.3,"T3-Zy1":-0.4,"Fp1-F7":2.5,"F7-T3":-0.5,"T3-T5":-0.4,"T5-O1":-0.5,"Fp1-F9":-2,"F9-T9":1.3,"T9-P9":-1.0,"P9-O1":-0.8},
{"t":344,"C3-T3":-0.3,"T3-Zy1":0.2,"Fp1-F7":-2,"F7-T3":0.4,"T3-T5":0.6,"T5-O1":0.4,"Fp1-F9":1.5,"F9-T9":-1.2,"T9-P9":0.8,"P9-O1":0.7},
{"t":348,"C3-T3":0.4,"T3-Zy1":-0.3,"Fp1-F7":1.5,"F7-T3":-0.6,"T3-T5":-0.5,"T5-O1":-0.3,"Fp1-F9":-1.2,"F9-T9":1.5,"T9-P9":-0.7,"P9-O1":-0.6},
{"t":352,"C3-T3":-0.5,"T3-Zy1":0.4,"Fp1-F7":-1.5,"F7-T3":0.5,"T3-T5":0.4,"T5-O1":0.5,"Fp1-F9":1.4,"F9-T9":-1.4,"T9-P9":0.9,"P9-O1":0.5},
{"t":356,"C3-T3":0.6,"T3-Zy1":-0.5,"Fp1-F7":1.2,"F7-T3":-0.4,"T3-T5":-0.5,"T5-O1":-0.4,"Fp1-F9":-1.0,"F9-T9":1.8,"T9-P9":-0.8,"P9-O1":-0.7},
{"t":360,"C3-T3":-0.5,"T3-Zy1":0.6,"Fp1-F7":-1.4,"F7-T3":0.5,"T3-T5":0.6,"T5-O1":0.3,"Fp1-F9":1.2,"F9-T9":-1.6,"T9-P9":1.0,"P9-O1":0.6},
{"t":364,"C3-T3":0.7,"T3-Zy1":-0.8,"Fp1-F7":1.6,"F7-T3":-0.6,"T3-T5":-0.7,"T5-O1":-0.4,"Fp1-F9":-1.4,"F9-T9":2.0,"T9-P9":-0.9,"P9-O1":-0.8},
{"t":368,"C3-T3":-0.9,"T3-Zy1":1.2,"Fp1-F7":-1.2,"F7-T3":0.8,"T3-T5":0.8,"T5-O1":0.5,"Fp1-F9":1.0,"F9-T9":-2.2,"T9-P9":0.8,"P9-O1":1.0},
{"t":372,"C3-T3":1.5,"T3-Zy1":-2.0,"Fp1-F7":1.0,"F7-T3":-1.0,"T3-T5":-1.0,"T5-O1":-0.3,"Fp1-F9":-0.8,"F9-T9":2.4,"T9-P9":-1.0,"P9-O1":-1.5},
{"t":376,"C3-T3":-2.5,"T3-Zy1":3.0,"Fp1-F7":-0.8,"F7-T3":1.8,"T3-T5":1.5,"T5-O1":0.4,"Fp1-F9":1.2,"F9-T9":-2.5,"T9-P9":1.1,"P9-O1":2.0},
{"t":380,"C3-T3":3.5,"T3-Zy1":-4.5,"Fp1-F7":0.6,"F7-T3":-3.0,"T3-T5":-2.5,"T5-O1":-0.6,"Fp1-F9":-0.9,"F9-T9":2.6,"T9-P9":-0.8,"P9-O1":-2.8},
{"t":384,"C3-T3":-5,"T3-Zy1":5.0,"Fp1-F7":-0.8,"F7-T3":4.0,"T3-T5":3.5,"T5-O1":0.8,"Fp1-F9":0.6,"F9-T9":-2.4,"T9-P9":0.7,"P9-O1":3.2},
{"t":388,"C3-T3":4.5,"T3-Zy1":-6.0,"Fp1-F7":0.5,"F7-T3":-5.5,"T3-T5":-4.5,"T5-O1":-1.0,"Fp1-F9":-0.5,"F9-T9":2.5,"T9-P9":-1.0,"P9-O1":-3.6},
{"t":392,"C3-T3":-5.5,"T3-Zy1":5.5,"Fp1-F7":-0.6,"F7-T3":4.5,"T3-T5":4.5,"T5-O1":1.5,"Fp1-F9":0.4,"F9-T9":-2.6,"T9-P9":1.2,"P9-O1":3.4},
{"t":396,"C3-T3":4.8,"T3-Zy1":-6.5,"Fp1-F7":0.4,"F7-T3":-6.0,"T3-T5":-5.5,"T5-O1":-2.0,"Fp1-F9":-0.6,"F9-T9":2.4,"T9-P9":-1.5,"P9-O1":-3.6},
{"t":400,"C3-T3":-5.5,"T3-Zy1":5.5,"Fp1-F7":-0.5,"F7-T3":4.5,"T3-T5":5.0,"T5-O1":1.8,"Fp1-F9":0.5,"F9-T9":-2.5,"T9-P9":2.0,"P9-O1":3.6},
{"t":404,"C3-T3":4.5,"T3-Zy1":-6.0,"Fp1-F7":0.3,"F7-T3":-6.0,"T3-T5":-5.5,"T5-O1":-2.5,"Fp1-F9":-0.3,"F9-T9":2.4,"T9-P9":-2.5,"P9-O1":-3.4},
{"t":408,"C3-T3":-5,"T3-Zy1":5.0,"Fp1-F7":-0.4,"F7-T3":4.2,"T3-T5":5.0,"T5-O1":2.0,"Fp1-F9":0.4,"F9-T9":-2.6,"T9-P9":3.0,"P9-O1":3.5},
{"t":412,"C3-T3":4,"T3-Zy1":-5.0,"Fp1-F7":0.5,"F7-T3":-5.5,"T3-T5":-5.5,"T5-O1":-2.8,"Fp1-F9":-0.5,"F9-T9":2.2,"T9-P9":-3.2,"P9-O1":-3.6},
{"t":416,"C3-T3":-3.5,"T3-Zy1":4.2,"Fp1-F7":-0.3,"F7-T3":3.8,"T3-T5":4.5,"T5-O1":2.2,"Fp1-F9":0.3,"F9-T9":-2.4,"T9-P9":3.0,"P9-O1":3.2},
{"t":420,"C3-T3":2.5,"T3-Zy1":-3.5,"Fp1-F7":0.4,"F7-T3":-4.5,"T3-T5":-5.0,"T5-O1":-2.6,"Fp1-F9":-0.4,"F9-T9":2.0,"T9-P9":-3.2,"P9-O1":-3.4},
{"t":424,"C3-T3":-2.8,"T3-Zy1":3.0,"Fp1-F7":-0.4,"F7-T3":3.0,"T3-T5":4.0,"T5-O1":2.0,"Fp1-F9":0.5,"F9-T9":-2.2,"T9-P9":3.0,"P9-O1":3.0},
{"t":428,"C3-T3":2,"T3-Zy1":-2.5,"Fp1-F7":0.3,"F7-T3":-3.5,"T3-T5":-4.5,"T5-O1":-2.8,"Fp1-F9":-0.3,"F9-T9":1.8,"T9-P9":-2.8,"P9-O1":-3.0},
{"t":432,"C3-T3":-1.5,"T3-Zy1":2.0,"Fp1-F7":-0.5,"F7-T3":2.0,"T3-T5":3.5,"T5-O1":1.8,"Fp1-F9":0.4,"F9-T9":-1.6,"T9-P9":2.6,"P9-O1":2.8},
{"t":436,"C3-T3":1.8,"T3-Zy1":-1.6,"Fp1-F7":0.3,"F7-T3":-1.5,"T3-T5":-3.5,"T5-O1":-2.5,"Fp1-F9":-0.6,"F9-T9":1.4,"T9-P9":-2.4,"P9-O1":-2.6},
{"t":440,"C3-T3":-1.2,"T3-Zy1":1.5,"Fp1-F7":-0.3,"F7-T3":1.2,"T3-T5":3.0,"T5-O1":1.6,"Fp1-F9":0.5,"F9-T9":-1.2,"T9-P9":2.2,"P9-O1":2.4},
{"t":444,"C3-T3":1.5,"T3-Zy1":-1.0,"Fp1-F7":0.4,"F7-T3":-0.8,"T3-T5":-2.8,"T5-O1":-2.2,"Fp1-F9":-0.4,"F9-T9":1.0,"T9-P9":-2.0,"P9-O1":-2.2},
{"t":448,"C3-T3":-1,"T3-Zy1":1.2,"Fp1-F7":-0.3,"F7-T3":0.9,"T3-T5":2.2,"T5-O1":1.4,"Fp1-F9":0.6,"F9-T9":-0.8,"T9-P9":1.8,"P9-O1":2.0},
{"t":452,"C3-T3":0.8,"T3-Zy1":-0.8,"Fp1-F7":0.2,"F7-T3":-0.6,"T3-T5":-2.0,"T5-O1":-1.8,"Fp1-F9":-0.3,"F9-T9":0.7,"T9-P9":-1.6,"P9-O1":-1.8},
{"t":456,"C3-T3":-0.9,"T3-Zy1":0.6,"Fp1-F7":-0.4,"F7-T3":0.8,"T3-T5":2.0,"T5-O1":1.0,"Fp1-F9":0.4,"F9-T9":-0.6,"T9-P9":1.4,"P9-O1":1.6},
{"t":460,"C3-T3":0.8,"T3-Zy1":-0.7,"Fp1-F7":0.3,"F7-T3":-0.7,"T3-T5":-1.8,"T5-O1":-1.5,"Fp1-F9":-0.5,"F9-T9":0.5,"T9-P9":-1.2,"P9-O1":-1.5},
{"t":464,"C3-T3":-0.6,"T3-Zy1":0.9,"Fp1-F7":-0.3,"F7-T3":0.6,"T3-T5":1.8,"T5-O1":0.8,"Fp1-F9":0.3,"F9-T9":-0.6,"T9-P9":1.0,"P9-O1":1.5},
{"t":468,"C3-T3":0.7,"T3-Zy1":-0.6,"Fp1-F7":0.5,"F7-T3":-0.8,"T3-T5":-1.6,"T5-O1":-1.0,"Fp1-F9":-0.4,"F9-T9":0.4,"T9-P9":-1.2,"P9-O1":-1.4},
{"t":472,"C3-T3":-0.5,"T3-Zy1":0.8,"Fp1-F7":-0.4,"F7-T3":0.7,"T3-T5":1.5,"T5-O1":2.2,"Fp1-F9":0.6,"F9-T9":-0.5,"T9-P9":1.1,"P9-O1":1.4},
{"t":476,"C3-T3":0.6,"T3-Zy1":-0.5,"Fp1-F7":0.3,"F7-T3":-0.6,"T3-T5":-1.5,"T5-O1":-1.5,"Fp1-F9":-0.5,"F9-T9":0.6,"T9-P9":-0.9,"P9-O1":-1.3},
{"t":480,"C3-T3":-0.6,"T3-Zy1":0.4,"Fp1-F7":-0.2,"F7-T3":0.8,"T3-T5":1.4,"T5-O1":0.6,"Fp1-F9":0.4,"F9-T9":-0.4,"T9-P9":1.0,"P9-O1":1.2},
{"t":484,"C3-T3":0.5,"T3-Zy1":-0.6,"Fp1-F7":0.4,"F7-T3":-0.6,"T3-T5":-1.3,"T5-O1":-0.5,"Fp1-F9":-0.3,"F9-T9":0.5,"T9-P9":-1.2,"P9-O1":-1.3},
{"t":488,"C3-T3":-0.4,"T3-Zy1":0.7,"Fp1-F7":-0.3,"F7-T3":0.5,"T3-T5":1.2,"T5-O1":0.8,"Fp1-F9":0.5,"F9-T9":-0.6,"T9-P9":0.8,"P9-O1":1.2},
{"t":492,"C3-T3":0.6,"T3-Zy1":-0.4,"Fp1-F7":0.3,"F7-T3":-0.7,"T3-T5":-1.2,"T5-O1":-0.6,"Fp1-F9":-0.6,"F9-T9":0.4,"T9-P9":-1.0,"P9-O1":-1.1},
{"t":496,"C3-T3":-0.5,"T3-Zy1":0.5,"Fp1-F7":-0.5,"F7-T3":0.6,"T3-T5":1.0,"T5-O1":0.5,"Fp1-F9":0.8,"F9-T9":-0.5,"T9-P9":1.3,"P9-O1":1.0},
{"t":500,"C3-T3":0.4,"T3-Zy1":-0.6,"Fp1-F7":0.4,"F7-T3":-0.5,"T3-T5":-1.0,"T5-O1":-0.4,"Fp1-F9":-0.5,"F9-T9":0.6,"T9-P9":-0.9,"P9-O1":-1.2},
{"t":504,"C3-T3":-0.5,"T3-Zy1":0.4,"Fp1-F7":-0.3,"F7-T3":0.7,"T3-T5":1.0,"T5-O1":0.6,"Fp1-F9":0.6,"F9-T9":-0.4,"T9-P9":0.8,"P9-O1":1.1},
{"t":508,"C3-T3":0.3,"T3-Zy1":-0.5,"Fp1-F7":0.3,"F7-T3":-0.6,"T3-T5":-0.9,"T5-O1":-0.5,"Fp1-F9":-0.4,"F9-T9":0.5,"T9-P9":-1.1,"P9-O1":-1.0},
{"t":512,"C3-T3":-0.4,"T3-Zy1":0.6,"Fp1-F7":-0.4,"F7-T3":0.5,"T3-T5":0.8,"T5-O1":0.4,"Fp1-F9":0.5,"F9-T9":-0.6,"T9-P9":1.0,"P9-O1":0.9},
{"t":516,"C3-T3":0.5,"T3-Zy1":-0.4,"Fp1-F7":0.4,"F7-T3":-0.6,"T3-T5":-0.9,"T5-O1":-0.6,"Fp1-F9":-0.4,"F9-T9":0.4,"T9-P9":-0.8,"P9-O1":-1.0},
{"t":520,"C3-T3":-0.3,"T3-Zy1":0.3,"Fp1-F7":-0.3,"F7-T3":0.5,"T3-T5":0.8,"T5-O1":0.5,"Fp1-F9":0.3,"F9-T9":-0.5,"T9-P9":0.9,"P9-O1":0.9},
{"t":524,"C3-T3":0.4,"T3-Zy1":-0.5,"Fp1-F7":0.3,"F7-T3":-0.4,"T3-T5":-0.7,"T5-O1":-0.4,"Fp1-F9":-0.5,"F9-T9":0.4,"T9-P9":-0.7,"P9-O1":-0.8},
{"t":528,"C3-T3":-0.2,"T3-Zy1":0.4,"Fp1-F7":-0.2,"F7-T3":0.5,"T3-T5":0.6,"T5-O1":0.5,"Fp1-F9":0.4,"F9-T9":-0.5,"T9-P9":0.8,"P9-O1":0.9}
]
},
"hconcat": [
{
"width": 258,
"height": 670,
"title": {"text": "Nefiltrované skalpové EEG", "anchor": "start", "frame": "group", "dx": -68, "offset": 24, "font": "Open Sans", "fontSize": 26, "fontWeight": "bold", "color": "#000"},
"layer": [
{"data": {"values": [{"start": 1.01, "end": 1.26}]},
"mark": {"type": "rect", "color": "#e3e3e3"},
"encoding": {"x": {"field": "start", "type": "quantitative", "scale": {"domain": [0, 3.15], "nice": false, "zero": false}, "axis": null}, "x2": {"field": "end"}}},
{"data": {"name": "L"},
"transform": [{"fold": ["C3-T3","T3-Zy1","Fp1-F7","F7-T3","T3-T5","T5-O1","Fp1-F9","F9-T9","T9-P9","P9-O1"], "as": ["c", "v"]}],
"mark": {"type": "line", "color": "#111", "strokeWidth": 1.5, "strokeJoin": "round"},
"encoding": {
"x": {"field": "t", "type": "quantitative", "scale": {"domain": [0, 3.15], "nice": false, "zero": false}, "axis": null},
"y": {"field": "c", "type": "nominal", "scale": {"type": "band", "domain": ["C3-T3","T3-Zy1","Fp1-F7","F7-T3","T3-T5","T5-O1","Fp1-F9","F9-T9","T9-P9","P9-O1"], "paddingInner": 0, "paddingOuter": 0}, "axis": {"title": null, "domain": false, "ticks": false, "labelFont": "Liberation Sans", "labelFontSize": 17, "labelColor": "#111", "labelPadding": 3}},
"yOffset": {"field": "v", "type": "quantitative", "scale": {"domain": [-100, 100], "range": [68.5, -1.5]}},
"detail": {"field": "c"},
"order": {"field": "t", "type": "quantitative"}
}},
{"data": {"values": [{"t": -1.404, "c": "P9-O1", "v": 4, "o": 1}, {"t": -1.404, "c": "P9-O1", "v": -96, "o": 2}, {"t": -0.403, "c": "P9-O1", "v": -96, "o": 3}]},
"mark": {"type": "line", "color": "#444", "strokeWidth": 1.3},
"encoding": {
"x": {"field": "t", "type": "quantitative", "scale": {"domain": [0, 3.15], "nice": false, "zero": false}, "axis": null},
"y": {"field": "c", "type": "nominal", "scale": {"type": "band", "domain": ["C3-T3","T3-Zy1","Fp1-F7","F7-T3","T3-T5","T5-O1","Fp1-F9","F9-T9","T9-P9","P9-O1"], "paddingInner": 0, "paddingOuter": 0}},
"yOffset": {"field": "v", "type": "quantitative", "scale": {"domain": [-100, 100], "range": [68.5, -1.5]}},
"order": {"field": "o"}
}},
{"data": {"values": [{"t": -2.173, "c": "P9-O1", "v": 27, "s": "100µV"}]},
"mark": {"type": "text", "align": "left", "baseline": "middle", "font": "Liberation Sans", "fontSize": 20, "color": "#222"},
"encoding": {
"x": {"field": "t", "type": "quantitative", "scale": {"domain": [0, 3.15], "nice": false, "zero": false}, "axis": null},
"y": {"field": "c", "type": "nominal", "scale": {"type": "band", "domain": ["C3-T3","T3-Zy1","Fp1-F7","F7-T3","T3-T5","T5-O1","Fp1-F9","F9-T9","T9-P9","P9-O1"], "paddingInner": 0, "paddingOuter": 0}},
"yOffset": {"field": "v", "type": "quantitative", "scale": {"domain": [-100, 100], "range": [68.5, -1.5]}},
"text": {"field": "s"}
}},
{"data": {"values": [{"t": -0.342, "c": "P9-O1", "v": -81, "s": "1s"}]},
"mark": {"type": "text", "align": "left", "baseline": "middle", "font": "Liberation Sans", "fontSize": 24, "color": "#222"},
"encoding": {
"x": {"field": "t", "type": "quantitative", "scale": {"domain": [0, 3.15], "nice": false, "zero": false}, "axis": null},
"y": {"field": "c", "type": "nominal", "scale": {"type": "band", "domain": ["C3-T3","T3-Zy1","Fp1-F7","F7-T3","T3-T5","T5-O1","Fp1-F9","F9-T9","T9-P9","P9-O1"], "paddingInner": 0, "paddingOuter": 0}},
"yOffset": {"field": "v", "type": "quantitative", "scale": {"domain": [-100, 100], "range": [68.5, -1.5]}},
"text": {"field": "s"}
}}
]
},
{
"width": 398,
"height": 664,
"title": {"text": "Filtrované EEG (HP, >80 HZ", "anchor": "start", "frame": "group", "dx": -26, "offset": 24, "font": "Open Sans", "fontSize": 29, "fontWeight": "bold", "color": "#000"},
"layer": [
{"data": {"values": [{"start": 102.5, "end": 327.6}]},
"mark": {"type": "rect", "color": "#e3e3e3"},
"encoding": {"x": {"field": "start", "type": "quantitative", "scale": {"domain": [0, 530], "nice": false, "zero": false}, "axis": null}, "x2": {"field": "end"}}},
{"data": {"values": [
{"b": "a", "c": "Fp1-F7", "t": 90, "v": 15.5, "o": 1}, {"b": "a", "c": "Fp1-F7", "t": 344, "v": 15.5, "o": 2}, {"b": "a", "c": "Fp1-F7", "t": 344, "v": -15.5, "o": 3}, {"b": "a", "c": "Fp1-F7", "t": 90, "v": -15.5, "o": 4}, {"b": "a", "c": "Fp1-F7", "t": 90, "v": 15.5, "o": 5},
{"b": "b", "c": "Fp1-F9", "t": 85, "v": 14, "o": 1}, {"b": "b", "c": "Fp1-F9", "t": 341, "v": 14, "o": 2}, {"b": "b", "c": "Fp1-F9", "t": 341, "v": -17, "o": 3}, {"b": "b", "c": "Fp1-F9", "t": 85, "v": -17, "o": 4}, {"b": "b", "c": "Fp1-F9", "t": 85, "v": 14, "o": 5}
]},
"mark": {"type": "line", "color": "#6a6a6a", "strokeWidth": 1.3},
"encoding": {
"x": {"field": "t", "type": "quantitative", "scale": {"domain": [0, 530], "nice": false, "zero": false}, "axis": null},
"y": {"field": "c", "type": "nominal", "scale": {"type": "band", "domain": ["C3-T3","T3-Zy1","Fp1-F7","F7-T3","T3-T5","T5-O1","Fp1-F9","F9-T9","T9-P9","P9-O1"], "paddingInner": 0, "paddingOuter": 0}},
"yOffset": {"field": "v", "type": "quantitative", "scale": {"domain": [-10, 10], "range": [66.4, 0]}},
"detail": {"field": "b"},
"order": {"field": "o"}
}},
{"data": {"name": "R"},
"transform": [{"fold": ["C3-T3","T3-Zy1","Fp1-F7","F7-T3","T3-T5","T5-O1","Fp1-F9","F9-T9","T9-P9","P9-O1"], "as": ["c", "v"]}],
"mark": {"type": "line", "color": "#111", "strokeWidth": 1.3, "strokeJoin": "round"},
"encoding": {
"x": {"field": "t", "type": "quantitative", "scale": {"domain": [0, 530], "nice": false, "zero": false}, "axis": null},
"y": {"field": "c", "type": "nominal", "scale": {"type": "band", "domain": ["C3-T3","T3-Zy1","Fp1-F7","F7-T3","T3-T5","T5-O1","Fp1-F9","F9-T9","T9-P9","P9-O1"], "paddingInner": 0, "paddingOuter": 0}, "axis": {"title": null, "domain": false, "ticks": false, "labelFont": "Liberation Sans", "labelFontSize": 18, "labelColor": "#111", "labelPadding": 3}},
"yOffset": {"field": "v", "type": "quantitative", "scale": {"domain": [-10, 10], "range": [66.4, 0]}},
"detail": {"field": "c"},
"order": {"field": "t", "type": "quantitative"}
}},
{"data": {"values": [
{"c": "C3-T3", "t": 377, "v": -7.2}, {"c": "C3-T3", "t": 450, "v": -7.2},
{"c": "T3-Zy1", "t": 381, "v": -7.2}, {"c": "T3-Zy1", "t": 447, "v": -7.2},
{"c": "F7-T3", "t": 380, "v": -7.5}, {"c": "F7-T3", "t": 433, "v": -7.5},
{"c": "T3-T5", "t": 382, "v": -8.1}, {"c": "T3-T5", "t": 458, "v": -8.1},
{"c": "T5-O1", "t": 393, "v": -4.8}, {"c": "T5-O1", "t": 469, "v": -4.8},
{"c": "T9-P9", "t": 405, "v": -4.2}, {"c": "T9-P9", "t": 455, "v": -4.2},
{"c": "P9-O1", "t": 382, "v": -5.7}, {"c": "P9-O1", "t": 455, "v": -5.7}
]},
"mark": {"type": "line", "color": "#111", "strokeWidth": 2.2},
"encoding": {
"x": {"field": "t", "type": "quantitative", "scale": {"domain": [0, 530], "nice": false, "zero": false}, "axis": null},
"y": {"field": "c", "type": "nominal", "scale": {"type": "band", "domain": ["C3-T3","T3-Zy1","Fp1-F7","F7-T3","T3-T5","T5-O1","Fp1-F9","F9-T9","T9-P9","P9-O1"], "paddingInner": 0, "paddingOuter": 0}},
"yOffset": {"field": "v", "type": "quantitative", "scale": {"domain": [-10, 10], "range": [66.4, 0]}},
"detail": {"field": "c"},
"order": {"field": "t", "type": "quantitative"}
}},
{"data": {"values": [{"c": "C3-T3", "t": 411, "v": 8.1, "s": "HFO"}, {"c": "C3-T3", "t": 218, "v": -10.5, "s": "Artefakty"}]},
"mark": {"type": "text", "align": "center", "baseline": "middle", "font": "Open Sans", "fontWeight": "bold", "fontSize": 16, "color": "#111"},
"encoding": {
"x": {"field": "t", "type": "quantitative", "scale": {"domain": [0, 530], "nice": false, "zero": false}, "axis": null},
"y": {"field": "c", "type": "nominal", "scale": {"type": "band", "domain": ["C3-T3","T3-Zy1","Fp1-F7","F7-T3","T3-T5","T5-O1","Fp1-F9","F9-T9","T9-P9","P9-O1"], "paddingInner": 0, "paddingOuter": 0}},
"yOffset": {"field": "v", "type": "quantitative", "scale": {"domain": [-10, 10], "range": [66.4, 0]}},
"text": {"field": "s"}
}},
{"data": {"values": [{"t": -95.9, "c": "P9-O1", "v": -6.6, "o": 1}, {"t": -95.9, "c": "P9-O1", "v": -16.6, "o": 2}, {"t": 4.1, "c": "P9-O1", "v": -16.6, "o": 3}]},
"mark": {"type": "line", "color": "#444", "strokeWidth": 1.3},
"encoding": {
"x": {"field": "t", "type": "quantitative", "scale": {"domain": [0, 530], "nice": false, "zero": false}, "axis": null},
"y": {"field": "c", "type": "nominal", "scale": {"type": "band", "domain": ["C3-T3","T3-Zy1","Fp1-F7","F7-T3","T3-T5","T5-O1","Fp1-F9","F9-T9","T9-P9","P9-O1"], "paddingInner": 0, "paddingOuter": 0}},
"yOffset": {"field": "v", "type": "quantitative", "scale": {"domain": [-10, 10], "range": [66.4, 0]}},
"order": {"field": "o"}
}},
{"data": {"values": [{"t": -182.4, "c": "P9-O1", "v": -3.6, "s": "10µV"}, {"t": 17.3, "c": "P9-O1", "v": -16.9, "s": "100 ms"}]},
"mark": {"type": "text", "align": "left", "baseline": "middle", "font": "Liberation Sans", "fontSize": 21, "color": "#222"},
"encoding": {
"x": {"field": "t", "type": "quantitative", "scale": {"domain": [0, 530], "nice": false, "zero": false}, "axis": null},
"y": {"field": "c", "type": "nominal", "scale": {"type": "band", "domain": ["C3-T3","T3-Zy1","Fp1-F7","F7-T3","T3-T5","T5-O1","Fp1-F9","F9-T9","T9-P9","P9-O1"], "paddingInner": 0, "paddingOuter": 0}},
"yOffset": {"field": "v", "type": "quantitative", "scale": {"domain": [-10, 10], "range": [66.4, 0]}},
"text": {"field": "s"}
}}
]
}
]
}
